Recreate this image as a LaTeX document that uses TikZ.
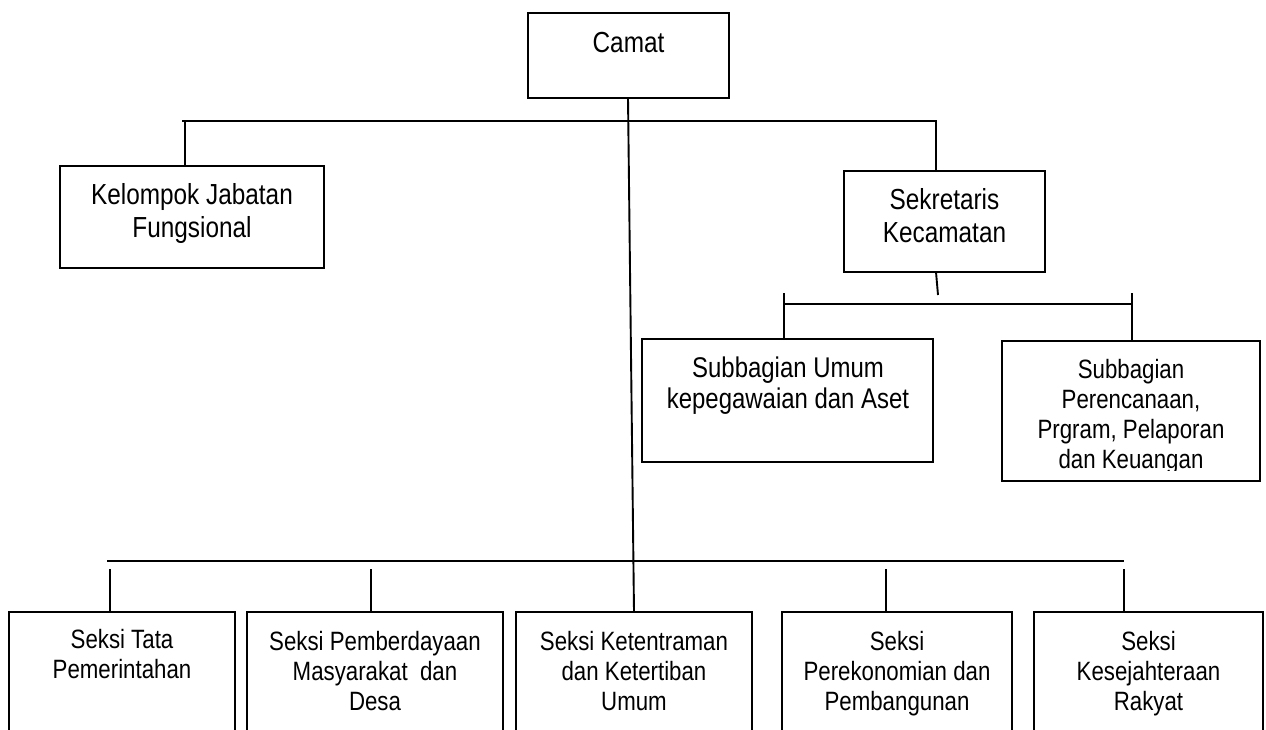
\documentclass[tikz,border=0pt]{standalone}
\usepackage{fontspec}
\setmainfont[FakeStretch=0.84]{Liberation Sans}
\usetikzlibrary{fit}
\newcommand\st{\vrule height24pt width0pt depth0pt}
\begin{document}
\begin{tikzpicture}[x=1pt,y=-1pt,
  box/.style={draw, line width=1.9pt, inner sep=0pt},
  ln/.style={line width=1.9pt},
  bigtxt/.style={font=\fontsize{29}{33}\selectfont, align=center, inner sep=0pt, anchor=north},
  midtxt/.style={font=\fontsize{28.5}{31}\selectfont, align=center, inner sep=0pt, anchor=north},
  smalltxt/.style={font=\fontsize{26.5}{30}\selectfont, align=center, inner sep=0pt, anchor=north}]
\useasboundingbox (0,0) rectangle (1266,729);
\clip (0,0) rectangle (1266,729);
\fill[white] (0,0) rectangle (1266,729);

% boxes
\node[box, fit={(528,13) (729,98)}] (camat) {};
\node[box, fit={(60,166) (324,268)}] (kjf) {};
\node[box, fit={(844,171) (1045,272)}] (sek) {};
\node[box, fit={(642,339) (933,462)}] (sub1) {};
\node[box, fit={(1002,341) (1260,481)}] (sub2) {};
\node[box, fit={(9,612) (235,780)}] (s1) {};
\node[box, fit={(247,612) (503,780)}] (s2) {};
\node[box, fit={(516,612) (752,780)}] (s3) {};
\node[box, fit={(782,612) (1012,780)}] (s4) {};
\node[box, fit={(1034,612) (1263,780)}] (s5) {};

% texts
\node[bigtxt] (camat-t) at (628.5,28) {\st Camat};
\node[bigtxt] (kjf-t) at (192,180) {\st Kelompok Jabatan\\Fungsional};
\node[bigtxt] (sek-t) at (944.5,185) {\st Sekretaris\\Kecamatan};
\node[midtxt] (sub1-t) at (788,353) {\st Subbagian Umum\\kepegawaian dan Aset};
\begin{scope}
  \clip (1002,341) rectangle (1260,470);
  \node[smalltxt] (sub2-t) at (1131,354) {\st Subbagian\\Perencanaan,\\Prgram, Pelaporan\\dan Keuangan};
\end{scope}
\node[smalltxt] (s1-t) at (122,624) {\st Seksi Tata\\Pemerintahan};
\node[smalltxt] (s2-t) at (375,626) {\st Seksi Pemberdayaan\\Masyarakat\ \ dan\\Desa};
\node[smalltxt] (s3-t) at (634,626) {\st Seksi Ketentraman\\dan Ketertiban\\Umum};
\node[smalltxt] (s4-t) at (897,626) {\st Seksi\\Perekonomian dan\\Pembangunan};
\node[smalltxt] (s5-t) at (1148.5,626) {\st Seksi\\Kesejahteraan\\Rakyat};

% bus coordinates
\coordinate (topL) at (182,121);
\coordinate (topR) at (937,121);
\coordinate (dropK) at (185,121);
\coordinate (dropS) at (936,121);
\coordinate (sekEnd) at (938,295);
\coordinate (subL) at (784,304);
\coordinate (subR) at (1132,304);
\coordinate (subLt) at (784,293);
\coordinate (subRt) at (1132,293);
\coordinate (botL) at (107,561);
\coordinate (botR) at (1124,561);

% connectors
\draw[ln] (topL) -- (topR);
\draw[ln] (dropK) -- (dropK |- kjf.north);
\draw[ln] (dropS) -- (dropS |- sek.north);
\draw[ln] (628,98) -- (634,612);
\draw[ln] (936,272) -- (sekEnd);
\draw[ln] (subL) -- (subR);
\draw[ln] (subLt) -- (subLt |- sub1.north);
\draw[ln] (subRt) -- (subRt |- sub2.north);
\draw[ln] (botL) -- (botR);
\draw[ln] (110,569) -- (110,612);
\draw[ln] (371,569) -- (371,612);
\draw[ln] (886,569) -- (886,612);
\draw[ln] (1124,569) -- (1124,612);
\end{tikzpicture}
\end{document}
